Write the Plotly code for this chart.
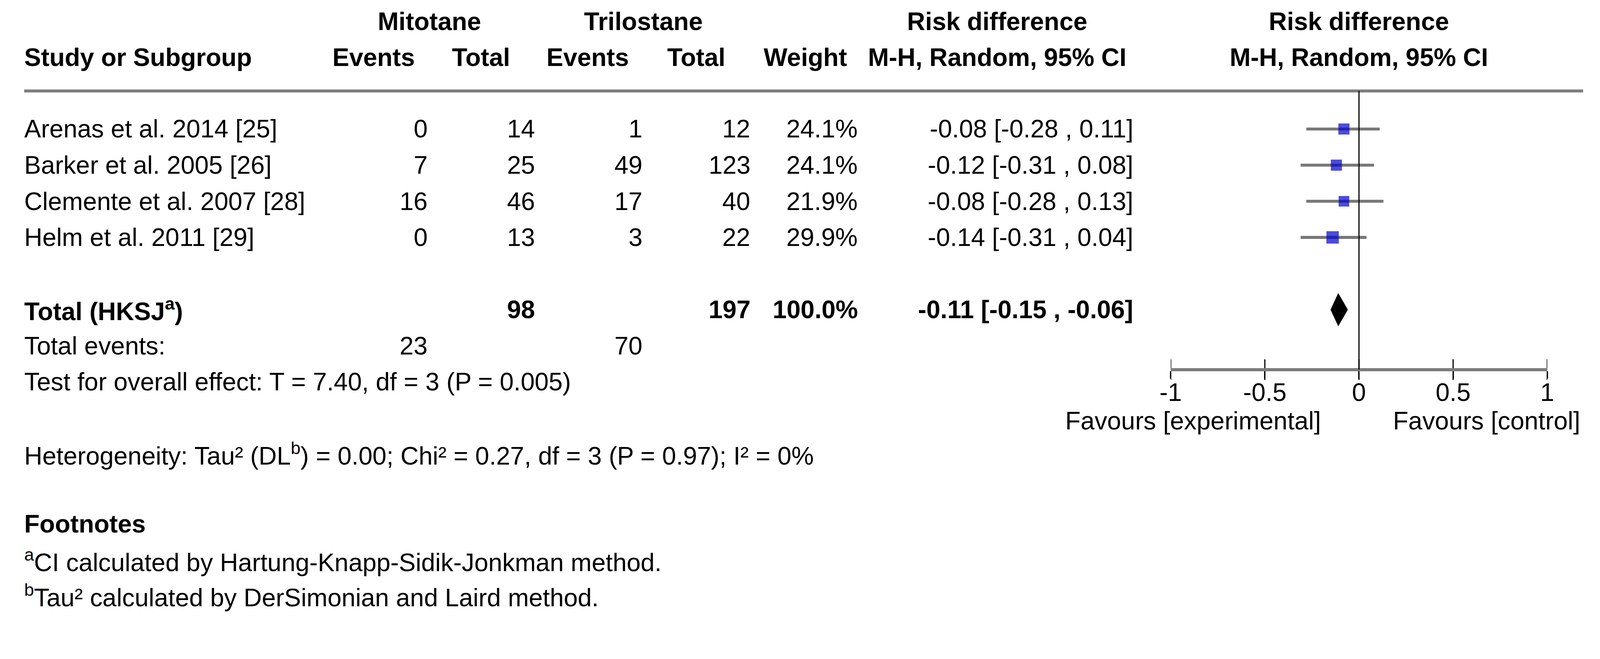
import plotly.graph_objects as go

# ---------------- data ----------------
studies = ["Arenas et al. 2014 [25]", "Barker et al. 2005 [26]",
           "Clemente et al. 2007 [28]", "Helm et al. 2011 [29]"]
mit_events = [0, 7, 16, 0]
mit_total = [14, 25, 46, 13]
tri_events = [1, 49, 17, 3]
tri_total = [12, 123, 40, 22]
weights = [24.1, 24.1, 21.9, 29.9]
rd = [-0.08, -0.12, -0.08, -0.14]
ci_lo = [-0.28, -0.31, -0.28, -0.31]
ci_hi = [0.11, 0.08, 0.13, 0.04]
total_weight = 100.0
total_rd = -0.11
total_lo = -0.15
total_hi = -0.06
tick_vals = [-1, -0.5, 0, 0.5, 1]
tick_text = ["-1", "-0.5", "0", "0.5", "1"]

# ---------------- layout (design space = reference pixels 4326 x 1688) ----------------
REF_W, REF_H = 4326, 1688
S = 4096 / REF_W            # visible capture width / design width
OFF = 8                     # page body margin
FIG_W = round(REF_W * S - OFF)
FIG_H = round(REF_H * S - OFF)
ROW0, ROWH = 349.0, 97.75   # design y of first study row and row height
FONT = "Liberation Sans, Arial, Helvetica, sans-serif"
FS = 68 * S
AX_LEFT, AX_RIGHT = 3171, 4201


def fx(X):
    """design x -> paper fraction"""
    return (X * S - OFF) / FIG_W


def row_of(Y):
    """design y -> row units"""
    return (Y - ROW0) / ROWH


Y_TOP = OFF / S
Y_BOT = (FIG_H + OFF) / S
AXIS_ROW = row_of(1000)
HEAD_LINE_ROW = row_of(246)
HEAD1_ROW = row_of(58)
HEAD2_ROW = row_of(155)

fig = go.Figure()

# CI lines
for i in range(len(studies)):
    fig.add_trace(go.Scatter(x=[ci_lo[i], ci_hi[i]], y=[i, i], mode="lines",
                             line=dict(color="#777777", width=8 * S),
                             hoverinfo="skip", showlegend=False))
# squares
fig.add_trace(go.Scatter(x=rd, y=list(range(len(studies))), mode="markers",
                         marker=dict(symbol="square", color="#0000CC",
                                     size=[30 * S * (w / 24.1) ** 0.5 for w in weights],
                                     line=dict(width=0)),
                         hoverinfo="skip", showlegend=False))
# diamond for total
TOT_ROW = 5
dh = 0.45
fig.add_trace(go.Scatter(x=[total_lo, total_rd, total_hi, total_rd, total_lo],
                         y=[TOT_ROW, TOT_ROW - dh, TOT_ROW, TOT_ROW + dh, TOT_ROW],
                         mode="lines", fill="toself", fillcolor="black",
                         line=dict(color="black", width=1),
                         hoverinfo="skip", showlegend=False))
# tick marks crossing the axis line (above and below)
fig.add_trace(go.Scatter(x=tick_vals, y=[AXIS_ROW] * len(tick_vals), mode="markers",
                         marker=dict(symbol="line-ns", size=40 * S,
                                     line=dict(color="black", width=3)),
                         hoverinfo="skip", showlegend=False))

ann = []


def text(X, row, s, anchor="left", bold=False, xref="paper"):
    if bold:
        s = "<b>" + s + "</b>"
    ann.append(dict(x=fx(X) if xref == "paper" else X, xref=xref, y=row, yref="y",
                    text=s, showarrow=False, xanchor=anchor, yanchor="middle",
                    font=dict(family=FONT, size=FS, color="black")))


LEFT = 33
# header row 1
text(1144, HEAD1_ROW, "Mitotane", "center", True)
text(1729, HEAD1_ROW, "Trilostane", "center", True)
text(2697, HEAD1_ROW, "Risk difference", "center", True)
text(0, HEAD1_ROW, "Risk difference", "center", True, xref="x")
# header row 2
text(LEFT, HEAD2_ROW, "Study or Subgroup", "left", True)
text(1106, HEAD2_ROW, "Events", "right", True)
text(1366, HEAD2_ROW, "Total", "right", True)
text(1691, HEAD2_ROW, "Events", "right", True)
text(1955, HEAD2_ROW, "Total", "right", True)
text(2287, HEAD2_ROW, "Weight", "right", True)
text(2697, HEAD2_ROW, "M-H, Random, 95% CI", "center", True)
text(0, HEAD2_ROW, "M-H, Random, 95% CI", "center", True, xref="x")

C_ME, C_MT, C_TE, C_TT, C_W, C_CI = 1141, 1435, 1729, 2024, 2317, 3071
for i, s in enumerate(studies):
    text(LEFT, i, s)
    text(C_ME, i, str(mit_events[i]), "right")
    text(C_MT, i, str(mit_total[i]), "right")
    text(C_TE, i, str(tri_events[i]), "right")
    text(C_TT, i, str(tri_total[i]), "right")
    text(C_W, i, f"{weights[i]:.1f}%", "right")
    text(C_CI, i, f"{rd[i]:.2f} [{ci_lo[i]:.2f} , {ci_hi[i]:.2f}]", "right")

text(LEFT, TOT_ROW, "Total (HKSJ<sup>a</sup>)", "left", True)
text(C_MT, TOT_ROW, str(sum(mit_total)), "right", True)
text(C_TT, TOT_ROW, str(sum(tri_total)), "right", True)
text(C_W, TOT_ROW, f"{total_weight:.1f}%", "right", True)
text(C_CI, TOT_ROW, f"{total_rd:.2f} [{total_lo:.2f} , {total_hi:.2f}]", "right", True)

text(LEFT, 6, "Total events:")
text(C_ME, 6, str(sum(mit_events)), "right")
text(C_TE, 6, str(sum(tri_events)), "right")
text(LEFT, 7, "Test for overall effect: T = 7.40, df = 3 (P = 0.005)")
text(LEFT, 9, "Heterogeneity: Tau² (DL<sup>b</sup>) = 0.00; Chi² = 0.27, df = 3 (P = 0.97); I² = 0%")
text(LEFT, row_of(1417), "Footnotes", "left", True)
text(LEFT, row_of(1517), "<sup>a</sup>CI calculated by Hartung-Knapp-Sidik-Jonkman method.")
text(LEFT, row_of(1612), "<sup>b</sup>Tau² calculated by DerSimonian and Laird method.")

# favours labels
text(3584, row_of(1138), "Favours [experimental]", "right")
text(4293, row_of(1138), "Favours [control]", "right")

shapes = [
    # header rule
    dict(type="line", xref="paper", yref="y", x0=fx(35), x1=fx(4299),
         y0=HEAD_LINE_ROW, y1=HEAD_LINE_ROW, line=dict(color="#7c7c7c", width=8 * S)),
    # zero line
    dict(type="line", xref="x", yref="y", x0=0, x1=0, y0=HEAD_LINE_ROW, y1=AXIS_ROW,
         line=dict(color="black", width=3), layer="above"),
]

axis_pos = 1 - (1000 * S - OFF) / FIG_H
fig.update_layout(
    width=FIG_W, height=FIG_H,
    margin=dict(l=0, r=0, t=0, b=0),
    paper_bgcolor="white", plot_bgcolor="white",
    showlegend=False,
    annotations=ann, shapes=shapes,
    xaxis=dict(domain=[fx(AX_LEFT), fx(AX_RIGHT)], range=[-1, 1], anchor="free",
               position=axis_pos, showgrid=False, zeroline=False,
               showline=True, linecolor="#7c7c7c", linewidth=8 * S,
               ticks="outside", ticklen=round(20 * S), tickwidth=3, tickcolor="black",
               tickvals=tick_vals, ticktext=tick_text, ticklabelstandoff=-20,
               tickfont=dict(family=FONT, size=FS, color="black")),
    yaxis=dict(domain=[0, 1], range=[row_of(Y_BOT), row_of(Y_TOP)],
               visible=False, showgrid=False, zeroline=False),
)

fig.write_html("out.html", config={"displayModeBar": False})
